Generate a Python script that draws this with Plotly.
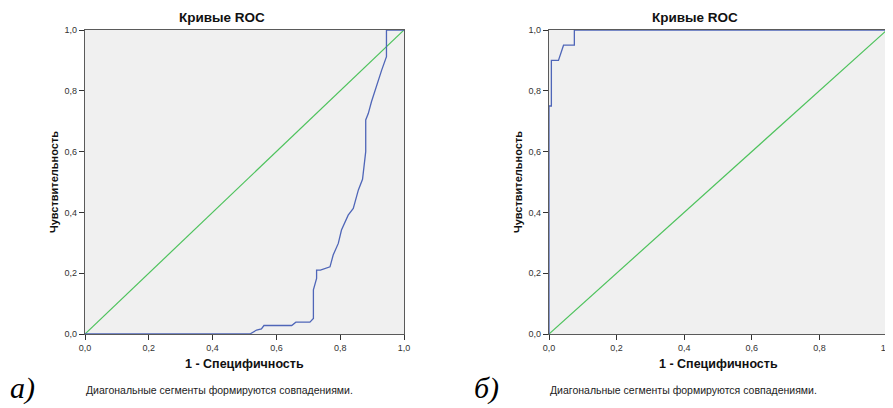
import plotly.graph_objects as go

# ---- data ----
tick_vals = [0.0, 0.2, 0.4, 0.6, 0.8, 1.0]
tick_text = ["0,0", "0,2", "0,4", "0,6", "0,8", "1,0"]

# Panel a) ROC curve
roc_a_fpr = [0.0, 0.517, 0.538, 0.553, 0.561, 0.648, 0.661, 0.705, 0.716, 0.716, 0.726,
             0.726, 0.738, 0.768, 0.778, 0.794, 0.804, 0.825, 0.841, 0.846, 0.857, 0.870,
             0.878, 0.880, 0.880, 0.888, 0.898, 0.914, 0.930, 0.945, 0.945, 1.0]
roc_a_tpr = [0.0, 0.0, 0.013, 0.017, 0.028, 0.028, 0.039, 0.039, 0.051, 0.145, 0.183,
             0.21, 0.21, 0.221, 0.26, 0.298, 0.342, 0.391, 0.413, 0.435, 0.474, 0.509,
             0.572, 0.60, 0.704, 0.725, 0.764, 0.819, 0.868, 0.912, 1.0, 1.0]

# Panel б) ROC curve
roc_b_fpr = [0.0, 0.0, 0.007, 0.007, 0.028, 0.043, 0.075, 0.075, 1.0]
roc_b_tpr = [0.0, 0.75, 0.75, 0.90, 0.90, 0.95, 0.95, 1.0, 1.0]

ref_line = [0.0, 1.0]

title_text = "Кривые ROC"
x_title = "1 - Специфичность"
y_title = "Чувствительность"
footnote = "Диагональные сегменты формируются совпадениями."
panel_labels = ["а)", "б)"]

# ---- figure ----
OFF = 8  # page body margin
W, H = 893, 408
BLUE = "#4F66B8"
GREEN = "#4DC25C"
AX = "#5a5a5a"
FONT = "Liberation Sans"


def fx(px):
    return (px - OFF) / W


def fy(py):
    return (H - (py - OFF)) / H


fig = go.Figure()

plots = [
    dict(x0=85, x1=404, xaxis="x", yaxis="y", fpr=roc_a_fpr, tpr=roc_a_tpr),
    dict(x0=549, x1=887, xaxis="x2", yaxis="y2", fpr=roc_b_fpr, tpr=roc_b_tpr),
]
y_top, y_bot = 30, 334
ydom = [fy(y_bot), fy(y_top)]

for p in plots:
    fig.add_trace(go.Scatter(x=ref_line, y=ref_line, mode="lines",
                             line=dict(color=GREEN, width=1.2),
                             xaxis=p["xaxis"], yaxis=p["yaxis"],
                             showlegend=False, hoverinfo="skip", cliponaxis=False))
    fig.add_trace(go.Scatter(x=p["fpr"], y=p["tpr"], mode="lines",
                             line=dict(color=BLUE, width=1.3),
                             xaxis=p["xaxis"], yaxis=p["yaxis"],
                             showlegend=False, hoverinfo="skip", cliponaxis=False))

axis_common = dict(range=[0, 1], tickvals=tick_vals, ticktext=tick_text,
                   showgrid=False, zeroline=False, showline=True, mirror=True,
                   linecolor=AX, linewidth=1.2, ticks="outside", ticklen=5,
                   tickcolor="#333", tickwidth=1.2, automargin=False,
                   tickfont=dict(family=FONT, size=9, color="#333"),
                   fixedrange=True, layer="below traces")

fig.update_layout(
    width=W, height=H,
    margin=dict(l=0, r=0, t=0, b=0, pad=0, autoexpand=False),
    paper_bgcolor="white",
    plot_bgcolor="#F0F0F0",
    font=dict(family=FONT, color="#222"),
    xaxis=dict(domain=[fx(plots[0]["x0"]), fx(plots[0]["x1"])], anchor="y", **axis_common),
    yaxis=dict(domain=ydom, anchor="x", **axis_common),
    xaxis2=dict(domain=[fx(plots[1]["x0"]), fx(plots[1]["x1"])], anchor="y2", **axis_common),
    yaxis2=dict(domain=ydom, anchor="x2", **axis_common),
)

annotations = []
for i, p in enumerate(plots):
    cx = (p["x0"] + p["x1"]) / 2
    annotations.append(dict(text="<b>" + title_text + "</b>", x=fx(cx - 23), y=fy(17),
                            xref="paper", yref="paper", showarrow=False,
                            xanchor="center", yanchor="middle",
                            font=dict(family=FONT, size=13.5, color="#111")))
    annotations.append(dict(text="<b>" + x_title + "</b>", x=fx(cx), y=fy(364),
                            xref="paper", yref="paper", showarrow=False,
                            xanchor="center", yanchor="middle",
                            font=dict(family=FONT, size=12.5, color="#111")))
    annotations.append(dict(text="<b>" + y_title + "</b>", x=fx(p["x0"] - 31),
                            y=fy((y_top + y_bot) / 2),
                            xref="paper", yref="paper", showarrow=False, textangle=-90,
                            xanchor="center", yanchor="middle",
                            font=dict(family=FONT, size=11, color="#111")))
    annotations.append(dict(text=footnote, x=fx(p["x0"] - 1), y=fy(390),
                            xref="paper", yref="paper", showarrow=False,
                            xanchor="left", yanchor="middle",
                            font=dict(family=FONT, size=10.5, color="#222")))
    annotations.append(dict(text="<i>" + panel_labels[i] + "</i>", x=fx(p["x0"] - 77),
                            y=fy(388), width=40, align="left",
                            xref="paper", yref="paper", showarrow=False,
                            xanchor="left", yanchor="middle",
                            font=dict(family="Liberation Serif", size=30, color="#000")))

fig.update_layout(annotations=annotations)

fig.write_html("out.html")
